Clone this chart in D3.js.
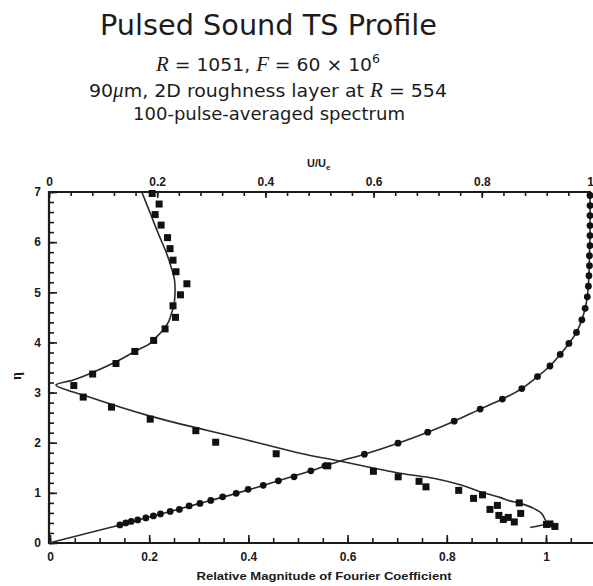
<!DOCTYPE html>
<html>
<head>
<meta charset="utf-8">
<script src="https://cdn.jsdelivr.net/npm/d3@7"></script>
<style>
  html, body { margin: 0; padding: 0; background: #fff; }
  svg { display: block; }
  .tick text { font-family: "Liberation Sans", Arial, sans-serif; font-weight: bold; font-size: 12px; fill: #1a1a1a; }
  .tick line { stroke: #1a1a1a; stroke-width: 1.6; }
</style>
</head>
<body>
<svg id="chart" width="593" height="586"></svg>
<script>
// Mean flow profile U/U_e against wall-normal coordinate eta (top axis)
const meanProfilePoints = [
  [0.131,0.36],[0.142,0.40],[0.152,0.43],[0.164,0.46],[0.179,0.50],[0.193,0.54],
  [0.206,0.58],[0.224,0.63],[0.241,0.67],[0.259,0.74],[0.279,0.79],[0.299,0.85],
  [0.321,0.92],[0.346,0.99],[0.368,1.07],[0.396,1.15],[0.424,1.24],[0.453,1.32],
  [0.484,1.44],[0.510,1.54],[0.583,1.77],[0.645,1.99],[0.700,2.21],[0.749,2.43],
  [0.797,2.67],[0.838,2.87],[0.874,3.08],[0.903,3.32],[0.926,3.53],[0.945,3.76],
  [0.961,3.98],[0.975,4.20],[0.985,4.45],[0.991,4.68],[0.995,4.91],[0.997,5.12],
  [0.998,5.33],[0.999,5.53],[0.999,5.73],[1.000,5.93],[1.000,6.13],[1.000,6.33],
  [1.000,6.53],[1.000,6.73],[1.000,6.93]
];
// Theoretical mean profile curve
const meanProfileCurve = [
  [0,0],[0.131,0.36],[0.179,0.50],[0.224,0.63],[0.279,0.79],[0.346,0.99],
  [0.424,1.24],[0.484,1.44],[0.534,1.62],[0.583,1.77],[0.645,1.99],[0.700,2.21],
  [0.749,2.43],[0.797,2.67],[0.838,2.87],[0.874,3.08],[0.903,3.32],[0.926,3.53],
  [0.945,3.76],[0.961,3.98],[0.975,4.20],[0.985,4.45],[0.991,4.68],[0.995,4.91],
  [0.998,5.33],[0.999,5.73],[1.000,6.13],[1.000,7.00]
];
// Measured TS amplitude (relative magnitude of Fourier coefficient, bottom axis)
const tsMeasured = [
  [0.206,6.97],[0.220,6.76],[0.212,6.55],[0.224,6.34],[0.237,6.09],[0.242,5.87],
  [0.248,5.64],[0.254,5.41],[0.276,5.17],[0.263,4.95],[0.248,4.73],[0.253,4.50],
  [0.232,4.27],[0.209,4.04],[0.171,3.82],[0.133,3.58],[0.086,3.37],[0.048,3.14],
  [0.067,2.91],[0.124,2.71],[0.202,2.47],[0.294,2.24],[0.334,2.01],[0.456,1.78],
  [0.560,1.54],[0.652,1.43],[0.702,1.32],[0.744,1.23],[0.758,1.12],[0.824,1.05],
  [0.854,0.89],[0.872,0.96],[0.887,0.67],[0.902,0.75],[0.905,0.55],[0.914,0.47],
  [0.924,0.51],[0.936,0.42],[0.946,0.80],[0.949,0.59],[1.001,0.37],[1.008,0.38],
  [1.018,0.33]
];
// Linear stability eigenfunction amplitude
const tsTheory = [
  [0.185,7.00],[0.202,6.58],[0.218,6.18],[0.235,5.78],[0.245,5.48],[0.251,5.25],
  [0.252,4.98],[0.250,4.75],[0.245,4.58],[0.239,4.41],[0.228,4.25],[0.215,4.11],
  [0.202,3.98],[0.175,3.84],[0.134,3.62],[0.086,3.40],[0.047,3.25],[0.012,3.15],
  [0.067,2.95],[0.202,2.53],[0.383,2.09],[0.504,1.79],[0.581,1.64],[0.706,1.39],
  [0.773,1.29],[0.827,1.16],[0.874,1.00],[0.907,0.91],[0.927,0.84],[0.948,0.79],
  [0.975,0.69],[0.991,0.59],[0.998,0.47],[1.001,0.40],[0.968,0.31]
];
const topTickLabels = [0, 0.2, 0.4, 0.6, 0.8, 1];
const bottomTickLabels = [0, 0.2, 0.4, 0.6, 0.8, 1];
const leftTickLabels = [0, 1, 2, 3, 4, 5, 6, 7];

const svg = d3.select("#chart");
const ink = "#1a1a1a";

const xTop = d3.scaleLinear().domain([0, 1]).range([49, 590]);
const xBottom = d3.scaleLinear().domain([0, 1]).range([50, 546]);
const y = d3.scaleLinear().domain([0, 7]).range([543, 192]);

// ---- titles ----
const title = svg.append("g").attr("fill", "#1c1c1c").attr("text-anchor", "middle");
title.append("text").attr("x", 268.5).attr("y", 35)
  .attr("font-family", "'DejaVu Sans', sans-serif").attr("font-size", 29)
  .attr("textLength", 337).attr("lengthAdjust", "spacingAndGlyphs")
  .text("Pulsed Sound TS Profile");

const sans = "'DejaVu Sans', sans-serif";
const serif = "'Liberation Serif', 'DejaVu Serif', serif";

const l2 = title.append("text").attr("x", 268).attr("y", 71)
  .attr("font-family", sans).attr("font-size", 18)
  .attr("textLength", 224).attr("lengthAdjust", "spacingAndGlyphs");
l2.append("tspan").attr("font-family", serif).attr("font-style", "italic").attr("font-size", 20).text("R");
l2.append("tspan").text(" = 1051, ");
l2.append("tspan").attr("font-family", serif).attr("font-style", "italic").attr("font-size", 20).text("F");
l2.append("tspan").text(" = 60 × 10");
l2.append("tspan").attr("font-size", 12).attr("dy", -8).text("6");

const l3 = title.append("text").attr("x", 268).attr("y", 97)
  .attr("font-family", sans).attr("font-size", 18)
  .attr("textLength", 358).attr("lengthAdjust", "spacingAndGlyphs");
l3.append("tspan").text("90");
l3.append("tspan").attr("font-family", serif).attr("font-style", "italic").attr("font-size", 20).text("μ");
l3.append("tspan").text("m, 2D roughness layer at ");
l3.append("tspan").attr("font-family", serif).attr("font-style", "italic").attr("font-size", 20).text("R");
l3.append("tspan").text(" = 554");

title.append("text").attr("x", 269).attr("y", 120)
  .attr("font-family", sans).attr("font-size", 18)
  .attr("textLength", 272).attr("lengthAdjust", "spacingAndGlyphs")
  .text("100-pulse-averaged spectrum");

// ---- axes ----
function styleAxis(g) {
  g.select(".domain").remove();
}

// top axis (U/U_e)
svg.append("g").attr("transform", "translate(0,192)")
  .call(d3.axisTop(xTop).tickValues(d3.range(0, 1.001, 0.04)).tickSize(-4).tickFormat(""))
  .call(styleAxis);
svg.append("g").attr("transform", "translate(0,192)")
  .call(d3.axisTop(xTop).tickValues(topTickLabels).tickSize(-6).tickPadding(6)
        .tickFormat(d => d3.format("~g")(d)))
  .call(styleAxis);

// bottom axis (relative magnitude)
svg.append("g").attr("transform", "translate(0,543)")
  .call(d3.axisBottom(xBottom).tickValues(d3.range(0, 1.06, 0.05)).tickSize(-5).tickFormat(""))
  .call(styleAxis);
svg.append("g").attr("transform", "translate(0,543)")
  .call(d3.axisBottom(xBottom).tickValues(bottomTickLabels).tickSize(-8).tickPadding(9)
        .tickFormat(d => d3.format("~g")(d)))
  .call(styleAxis);

// left axis (eta)
svg.append("g").attr("transform", "translate(49,0)")
  .call(d3.axisLeft(y).tickValues(d3.range(0, 7.001, 0.2)).tickSize(-5).tickFormat(""))
  .call(styleAxis);
svg.append("g").attr("transform", "translate(49,0)")
  .call(d3.axisLeft(y).tickValues(leftTickLabels).tickSize(-8).tickPadding(8).tickFormat(d3.format("d")))
  .call(styleAxis);

// axis lines
const frame = svg.append("g").attr("stroke", ink).attr("stroke-width", 2.2).attr("fill", "none");
frame.append("line").attr("x1", 48).attr("x2", 593).attr("y1", 543).attr("y2", 543);
frame.append("line").attr("x1", 48).attr("x2", 591).attr("y1", 192).attr("y2", 192);
frame.append("line").attr("x1", 49).attr("x2", 49).attr("y1", 191).attr("y2", 544);

// axis titles
svg.append("text").attr("x", 307).attr("y", 167)
  .attr("font-family", "'Liberation Sans', Arial, sans-serif").attr("font-weight", "bold")
  .attr("font-size", 11).attr("fill", ink)
  .call(t => {
    t.append("tspan").text("U/U");
    t.append("tspan").attr("font-size", 8).attr("dy", 3).text("e");
  });

svg.append("text").attr("transform", "translate(21,376) rotate(-90)")
  .attr("text-anchor", "middle").attr("font-family", serif).attr("font-size", 14)
  .attr("font-weight", "bold").attr("fill", ink).text("η");

svg.append("text").attr("x", 324).attr("y", 580).attr("text-anchor", "middle")
  .attr("font-family", "'Liberation Sans', Arial, sans-serif").attr("font-weight", "bold")
  .attr("font-size", 11).attr("fill", ink)
  .attr("textLength", 255).attr("lengthAdjust", "spacingAndGlyphs")
  .text("Relative Magnitude of Fourier Coefficient");

// ---- curves ----
const lineTop = d3.line().x(d => xTop(d[0])).y(d => y(d[1])).curve(d3.curveCatmullRom.alpha(0.5));
const lineBottom = d3.line().x(d => xBottom(d[0])).y(d => y(d[1])).curve(d3.curveCatmullRom.alpha(0.5));

svg.append("path").datum(meanProfileCurve).attr("d", lineTop)
  .attr("fill", "none").attr("stroke", "#2a2a2a").attr("stroke-width", 1.6);
svg.append("path").datum(tsTheory).attr("d", lineBottom)
  .attr("fill", "none").attr("stroke", "#2a2a2a").attr("stroke-width", 1.6);

// ---- markers ----
svg.append("g").selectAll("circle").data(meanProfilePoints).join("circle")
  .attr("cx", d => xTop(d[0])).attr("cy", d => y(d[1])).attr("r", 3.4)
  .attr("fill", "#111");

const sq = 7;
svg.append("g").selectAll("rect").data(tsMeasured).join("rect")
  .attr("x", d => xBottom(d[0]) - sq / 2).attr("y", d => y(d[1]) - sq / 2)
  .attr("width", sq).attr("height", sq).attr("fill", "#111");
</script>
</body>
</html>
